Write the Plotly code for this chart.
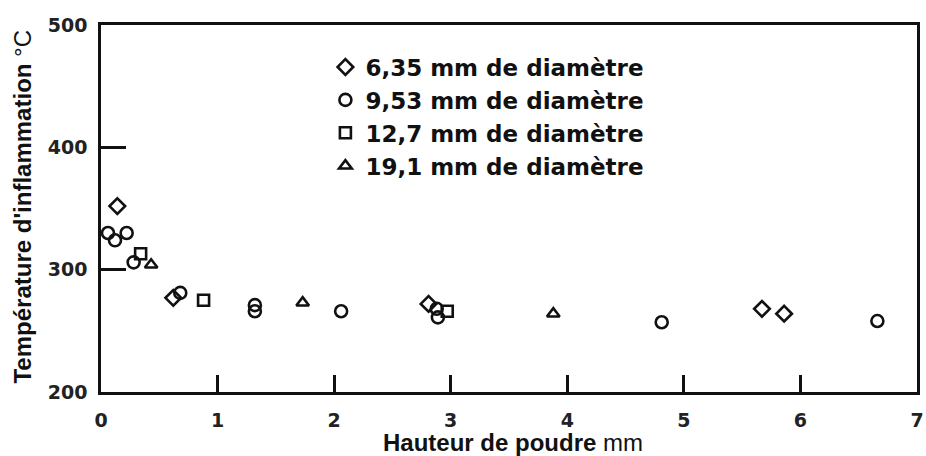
import plotly.graph_objects as go

# Ignition temperature (°C) versus powder layer height (mm), per cylinder diameter
labels = [
    "6,35 mm de diamètre",
    "9,53 mm de diamètre",
    "12,7 mm de diamètre",
    "19,1 mm de diamètre",
]
symbols = ["diamond-open", "circle-open", "square-open", "triangle-up-open"]

h_635 = [0.14, 0.62, 2.81, 5.67, 5.86]
t_635 = [352, 277, 272, 268, 264]

h_953 = [0.06, 0.12, 0.22, 0.28, 0.68, 1.32, 1.32, 2.06, 2.88, 2.89, 4.81, 6.66]
t_953 = [330, 324, 330, 306, 281, 271, 266, 266, 268, 261, 257, 258]

h_127 = [0.34, 0.88, 2.97]
t_127 = [313, 275, 266]

h_191 = [0.43, 1.73, 3.88]
t_191 = [304, 273, 264]

x_ticks = [0, 1, 2, 3, 4, 5, 6, 7]
y_ticks = [200, 300, 400, 500]

series = [(h_635, t_635), (h_953, t_953), (h_127, t_127), (h_191, t_191)]
sizes = [12, 12, 11, 11]

INK = "#111111"

fig = go.Figure()
for (hx, ty), name, sym, sz in zip(series, labels, symbols, sizes):
    fig.add_trace(go.Scatter(
        x=hx, y=ty, mode="markers", name=name,
        marker=dict(symbol=sym, size=sz, color=INK, line=dict(width=2.6, color=INK)),
        cliponaxis=False,
    ))

fig.update_layout(
    width=926, height=456,
    margin=dict(l=101, r=2, t=25, b=64),
    paper_bgcolor="white", plot_bgcolor="white",
    showlegend=True,
    legend=dict(
        x=0.275, y=0.944, xanchor="left", yanchor="top",
        bgcolor="rgba(0,0,0,0)", borderwidth=0,
        font=dict(family="DejaVu Sans, sans-serif", size=23, color=INK, weight="bold"),
        tracegroupgap=0, itemsizing="trace",
    ),
    font=dict(family="DejaVu Sans, sans-serif", color="#222222"),
)

tick_font = dict(family="DejaVu Sans, sans-serif", size=19, color="#222222", weight="bold")

fig.update_xaxes(
    range=[0, 7], tickvals=x_ticks, ticktext=[str(v) for v in x_ticks],
    showgrid=False, zeroline=False,
    showline=True, linecolor=INK, linewidth=2.5, mirror=True,
    ticks="inside", ticklen=17, tickwidth=2.5, tickcolor=INK,
    ticklabelstandoff=9, ticklabeloverflow="allow",
    tickfont=tick_font,
)
fig.update_yaxes(
    range=[200, 500], tickvals=y_ticks, ticktext=[str(v) for v in y_ticks],
    showgrid=False, zeroline=False,
    showline=True, linecolor=INK, linewidth=2.5, mirror=True,
    ticks="inside", ticklen=25, tickwidth=2.5, tickcolor=INK,
    ticklabelstandoff=7, ticklabeloverflow="allow",
    tickfont=tick_font,
)

# Axis titles
fig.add_annotation(
    text="<b>Température d'inflammation</b> °C",
    xref="paper", yref="paper", x=-0.0962, y=0.504,
    xanchor="center", yanchor="middle", textangle=-90, showarrow=False,
    font=dict(family="Liberation Sans, Arial, sans-serif", size=24, color=INK),
)
fig.add_annotation(
    text="<b>Hauteur de poudre</b> mm",
    xref="paper", yref="paper", x=0.505, y=-0.138,
    xanchor="center", yanchor="middle", showarrow=False,
    font=dict(family="Liberation Sans, Arial, sans-serif", size=24, color=INK),
)

fig.write_html("out.html")
